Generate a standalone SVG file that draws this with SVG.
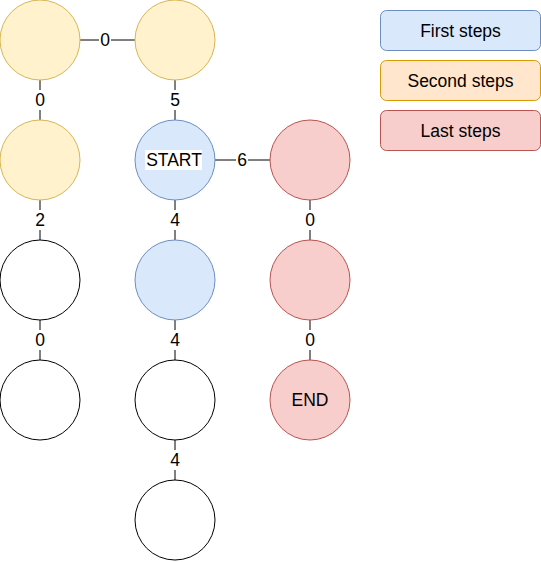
<svg xmlns="http://www.w3.org/2000/svg" width="541" height="562" viewBox="0 0 541 562">
<style>
text{font-family:"Liberation Sans",Arial,sans-serif;font-size:17.5px;fill:#000;text-anchor:middle;dominant-baseline:central}
.y{fill:#fff2cc;stroke:#d6b656}
.b{fill:#dae8fc;stroke:#6c8ebf}
.r{fill:#f8cecc;stroke:#b85450}
.w{fill:#fff;stroke:#000}
.o{fill:#ffe6cc;stroke:#d79b00}
.e line{stroke:#000;stroke-width:1}
.lb{fill:#fff}
</style>
<rect width="541" height="562" fill="#fff"/>
<g id="connectors" class="e">
<line x1="80" y1="40" x2="135" y2="40"/>
<line x1="40" y1="80" x2="40" y2="120"/>
<line x1="175" y1="80" x2="175" y2="120"/>
<line x1="40" y1="200" x2="40" y2="240"/>
<line x1="175" y1="200" x2="175" y2="240"/>
<line x1="215" y1="160" x2="270" y2="160"/>
<line x1="310" y1="200" x2="310" y2="240"/>
<line x1="40" y1="320" x2="40" y2="360"/>
<line x1="175" y1="320" x2="175" y2="360"/>
<line x1="310" y1="320" x2="310" y2="360"/>
<line x1="175" y1="440" x2="175" y2="480"/>
<g>
<rect class="lb" x="99" y="30" width="12" height="20"/><text x="105" y="40">0</text>
<rect class="lb" x="34" y="90" width="12" height="20"/><text x="40" y="100">0</text>
<rect class="lb" x="169" y="90" width="12" height="20"/><text x="175" y="100">5</text>
<rect class="lb" x="34" y="210" width="12" height="20"/><text x="40" y="220">2</text>
<rect class="lb" x="169" y="210" width="12" height="20"/><text x="175" y="220">4</text>
<rect class="lb" x="236" y="150" width="12" height="20"/><text x="242" y="160">6</text>
<rect class="lb" x="304" y="210" width="12" height="20"/><text x="310" y="220">0</text>
<rect class="lb" x="34" y="330" width="12" height="20"/><text x="40" y="340">0</text>
<rect class="lb" x="169" y="330" width="12" height="20"/><text x="175" y="340">4</text>
<rect class="lb" x="304" y="330" width="12" height="20"/><text x="310" y="340">0</text>
<rect class="lb" x="169" y="450" width="12" height="20"/><text x="175" y="460">4</text>
</g>
</g>
<g id="n1"><circle class="y" cx="40" cy="40" r="40"/></g>
<g id="n2"><circle class="y" cx="175" cy="40" r="40"/></g>
<g id="n3"><circle class="y" cx="40" cy="160" r="40"/></g>
<g id="start"><circle class="b" cx="175" cy="160" r="40"/><rect fill="#fff" x="145" y="150" width="57" height="20"/><text x="174" y="160">START</text></g>
<g id="n5"><circle class="r" cx="310" cy="160" r="40"/></g>
<g id="n6"><circle class="w" cx="40" cy="280" r="40"/></g>
<g id="n7"><circle class="b" cx="175" cy="280" r="40"/></g>
<g id="n8"><circle class="r" cx="310" cy="280" r="40"/></g>
<g id="n9"><circle class="w" cx="40" cy="400" r="40"/></g>
<g id="n10"><circle class="w" cx="175" cy="400" r="40"/></g>
<g id="end"><circle class="r" cx="310" cy="400" r="40"/><text x="310" y="400">END</text></g>
<g id="n12"><circle class="w" cx="175" cy="520" r="40"/></g>
<g id="legend-first"><rect class="b" x="380.5" y="10.5" width="160" height="40" rx="6"/><text x="460.5" y="30.5">First steps</text></g>
<g id="legend-second"><rect class="o" x="380.5" y="60.5" width="160" height="40" rx="6"/><text x="460.5" y="80.5">Second steps</text></g>
<g id="legend-last"><rect class="r" x="380.5" y="110.5" width="160" height="40" rx="6"/><text x="460.5" y="130.5">Last steps</text></g>
</svg>
